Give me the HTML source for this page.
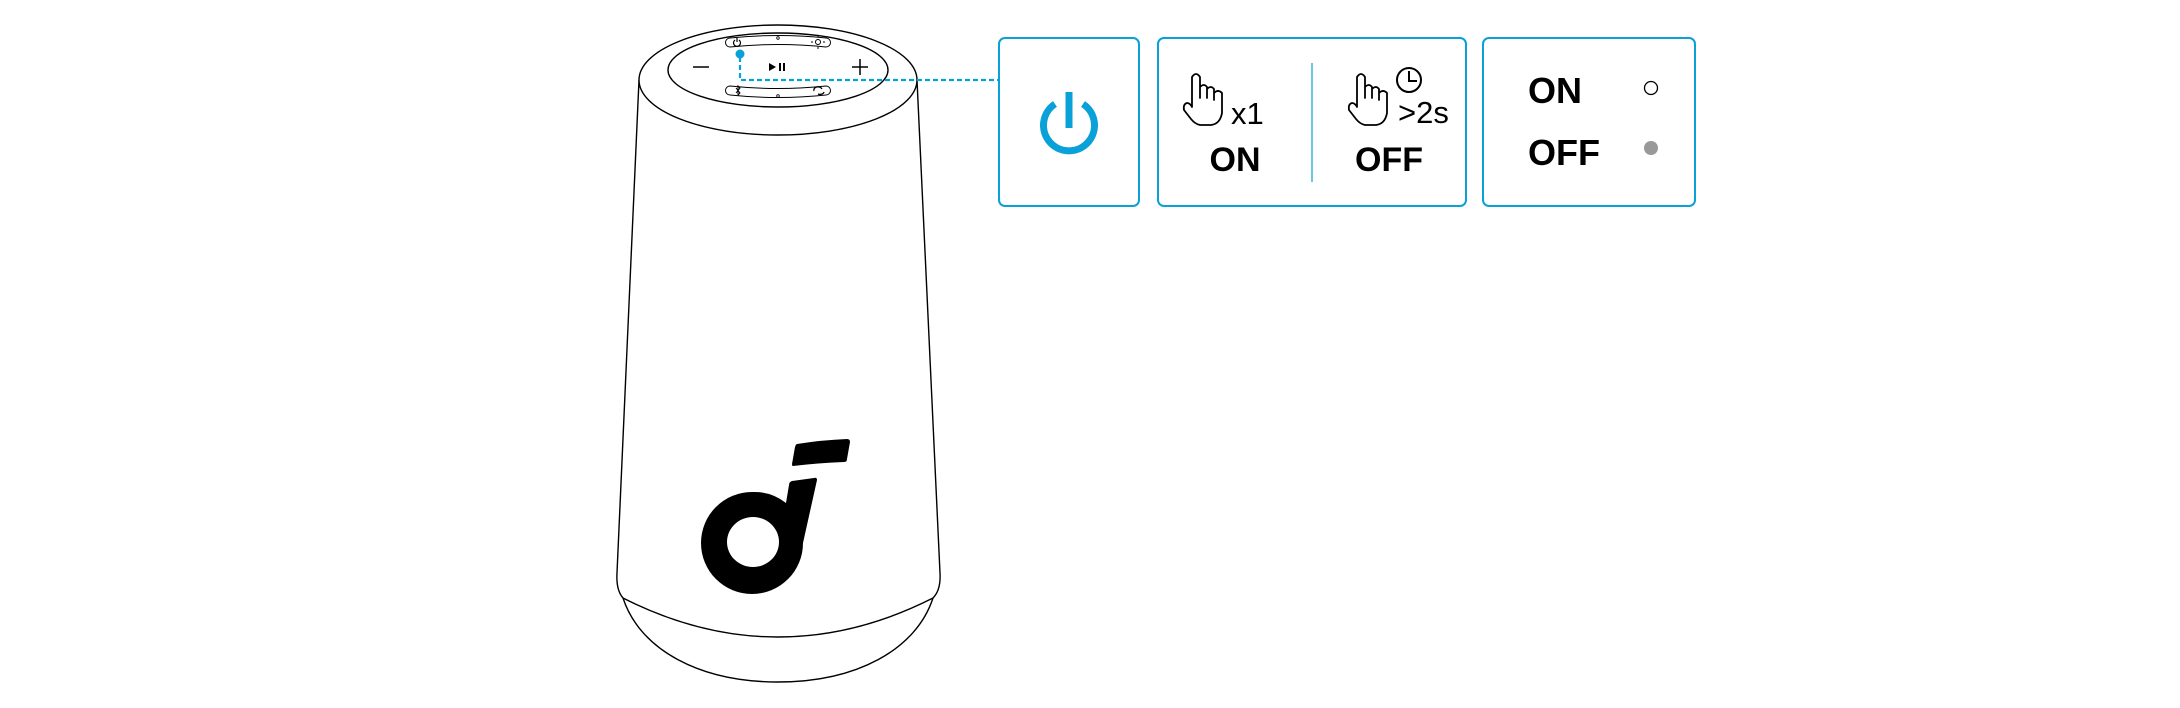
<!DOCTYPE html>
<html><head><meta charset="utf-8"><style>
html,body{margin:0;padding:0;background:#fff;width:2180px;height:708px;overflow:hidden}
svg{display:block}
text{font-family:"Liberation Sans",sans-serif}
</style></head><body>
<svg width="2180" height="708" viewBox="0 0 2180 708" xmlns="http://www.w3.org/2000/svg">
<defs>
<path id="hand" d="M9 34 L9 5 Q13 -1 17 5 L17 26 L17 15 Q21 11 24 15 L24 26 L24 17 Q28 13 31 17 L31 28 L31 21 Q35 17 39 21 L39 41 Q37 52 28 53 L17 53 Q12 52 8 47 L1 38 Q0 32 4 31 Q7 31 9 35 Z" fill="none" stroke="#000" stroke-width="1.8" stroke-linejoin="round"/>
</defs>
<g fill="none" stroke="#000" stroke-width="1.4">
  <path d="M639 80 Q627 330 617 573"/>
  <path d="M917 80 Q929 330 940 573"/>
  <path d="M617 573 Q616 590 623 598 Q700 637 778 637 Q856 637 933 598 Q941 590 940 573"/>
  <path d="M623 598 C640 650 700 682 778 682 C856 682 916 650 933 598"/>
  <ellipse cx="778" cy="80" rx="139" ry="55" fill="#fff"/>
  <ellipse cx="778" cy="70" rx="110" ry="37"/>
  <path d="M730 38 Q778 33 826 38 A4.5 4.5 0 0 1 826 47 Q778 42 730 47 A4.5 4.5 0 0 1 730 38Z" stroke-width="1"/>
  <path d="M730 86 Q778 91 826 86 A4.5 4.5 0 0 1 826 95 Q778 100 730 95 A4.5 4.5 0 0 1 730 86Z" stroke-width="1"/>
  <circle cx="778" cy="38" r="1.3" stroke-width="0.8"/>
  <circle cx="778" cy="96" r="1.3" stroke-width="0.8"/>
  <path d="M735 40 A3.5 3.5 0 1 0 739 40 M737 38 L737 42" stroke-width="1.2"/>
  <circle cx="818" cy="42" r="2.5" stroke-width="1"/>
  <path d="M813 42h-2M823 42h2M818 37v-2M818 47v2" stroke-width="1"/>
  <path d="M736 88 L740 93 L738 95 L738 86 L740 88 L736 93" stroke-width="1"/>
  <path d="M814 91 A4 3 0 0 1 822 89 M818 94 A4 3 0 0 0 824 92" stroke-width="1.3"/>
  <path d="M693 67h16M852 67h16M860 59v16" stroke-width="1.5"/>
</g>
<path d="M769 63 L776 67 L769 71Z M779 63h2v8h-2Z M783 63h2v8h-2Z" fill="#000"/>
<path fill="#000" fill-rule="evenodd" d="M752 492 A51 51 0 1 0 803 543 L817 480 Q817 477 814 478 L792 481 Q789 482 789 485 L786 503 A51 51 0 0 0 752 492 Z M753 517 A26 25 0 1 1 753 567 A26 25 0 1 1 753 517Z"/>
<path fill="#000" d="M797 444 Q822 440 847 439 Q850 439 850 442 L847 459 Q847 462 844 462 Q818 463 793 466 Q792 466 792 464 L795 447 Q796 444 797 444Z"/>
<g stroke="#0aa0d8" stroke-width="2.2" fill="none" stroke-dasharray="5 3">
  <path d="M740 57 L740 80 L999 80"/>
</g>
<circle cx="740" cy="54" r="4.5" fill="#0aa0d8"/>
<g fill="none" stroke="#0aa0d8" stroke-width="2">
  <rect x="999" y="38" width="140" height="168" rx="6"/>
  <rect x="1158" y="38" width="308" height="168" rx="6"/>
  <rect x="1483" y="38" width="212" height="168" rx="6"/>
  <path d="M1312 63 V182" stroke-width="1.2"/>
</g>
<g fill="none" stroke="#0aa0d8" stroke-width="7">
  <path d="M1055 104 A25.5 25.5 0 1 0 1083 104"/>
  <path d="M1069 92 V128"/>
</g>
<use href="#hand" x="1183" y="72"/>
<text x="1231" y="124" font-size="31">x1</text>
<text x="1235" y="171" font-size="34" font-weight="bold" text-anchor="middle">ON</text>
<use href="#hand" x="1348" y="72"/>
<circle cx="1409" cy="80" r="12" fill="none" stroke="#000" stroke-width="2"/>
<path d="M1409 71 V81 H1417" fill="none" stroke="#000" stroke-width="2"/>
<text x="1398" y="123" font-size="31">&gt;2s</text>
<text x="1389" y="171" font-size="34" font-weight="bold" text-anchor="middle">OFF</text>
<text x="1528" y="103" font-size="36" font-weight="bold">ON</text>
<text x="1528" y="165" font-size="36" font-weight="bold">OFF</text>
<circle cx="1651" cy="88" r="6.5" fill="none" stroke="#000" stroke-width="1.3"/>
<circle cx="1651" cy="148" r="7" fill="#999"/>
</svg>
</body></html>
